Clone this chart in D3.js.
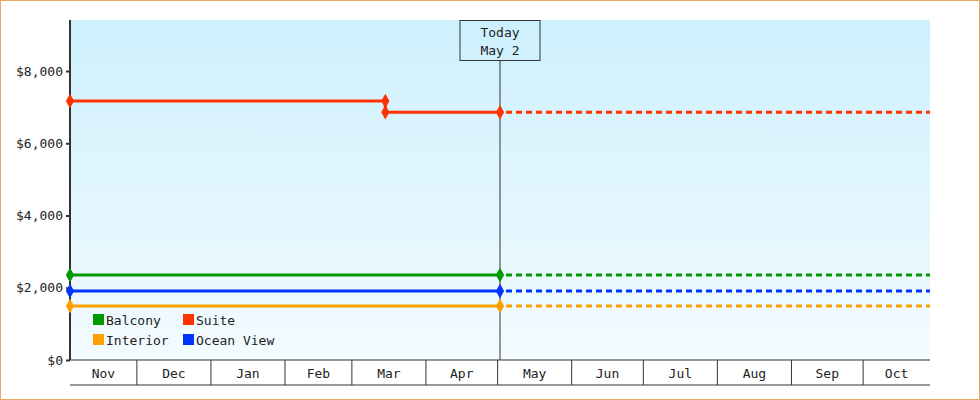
<!DOCTYPE html><html><head><script src="https://cdn.jsdelivr.net/npm/d3@7"></script>
<style>body{margin:0}svg{display:block}text{font-family:"DejaVu Sans Mono",monospace;font-size:13px;fill:#222}</style></head><body><svg width="980" height="400"></svg>
<script>
const series=["Balcony","Suite","Interior","Ocean View"];
const colors=["#009900","#ff3300","#ffa000","#0033ff"];
const dates=["2024-11-03","2025-03-15","2025-05-02"];
const balcony=[2355,2355,2355];
const suite=[7170,6860,6860];
const interior=[1495,1495,1495];
const ocean=[1910,1910,1910];
const yTicks=[0,2000,4000,6000,8000];
const vals=[balcony,suite,interior,ocean];
const svg=d3.select("svg");
const L=70,R=930,T=20,B=360;
svg.append("rect").attr("x",0.5).attr("y",0.5).attr("width",979).attr("height",399).attr("fill","#fff").attr("stroke","#e8a868");
const g=svg.append("defs").append("linearGradient").attr("id","bg").attr("x1",0).attr("y1",0).attr("x2",0).attr("y2",1);
g.append("stop").attr("offset",0).attr("stop-color","#cdf0fd");g.append("stop").attr("offset",1).attr("stop-color","#f3fbff");
svg.append("rect").attr("x",L).attr("y",T).attr("width",R-L).attr("height",B-T).attr("fill","url(#bg)");
const pd=d3.timeParse("%Y-%m-%d");
const x0=pd("2024-11-03"),x1=pd("2025-10-29");
const x=d3.scaleTime().domain([x0,x1]).range([L,R]);
const y=d3.scaleLinear().domain([0,9412]).range([B,T]);
const ya=svg.append("g").attr("transform",`translate(${L},0)`).call(d3.axisLeft(y).tickValues(yTicks).tickFormat(d=>"$"+d3.format(",")(d)).tickSize(4));
ya.select(".domain").remove();ya.selectAll("line").attr("stroke","#333").attr("stroke-width",2);
ya.selectAll("text").attr("style","font-family:'DejaVu Sans Mono';font-size:13px").attr("fill","#333");
svg.append("line").attr("x1",L).attr("x2",L).attr("y1",T).attr("y2",B).attr("stroke","#333").attr("stroke-width",2);
svg.append("line").attr("x1",L).attr("x2",R).attr("y1",B).attr("y2",B).attr("stroke","#333");
svg.append("line").attr("x1",L).attr("x2",R).attr("y1",385).attr("y2",385).attr("stroke","#333");
const months=d3.timeMonth.range(pd("2024-11-01"),pd("2025-11-01"));
months.slice(1).forEach(m=>svg.append("line").attr("x1",x(m)).attr("x2",x(m)).attr("y1",B).attr("y2",385).attr("stroke","#333"));
months.forEach(m=>{const a=Math.max(L,x(m)),b=Math.min(R,x(d3.timeMonth.offset(m,1)));
  svg.append("text").attr("x",(a+b)/2).attr("y",378).attr("text-anchor","middle").text(d3.timeFormat("%b")(m));});
const today=pd("2025-05-02"),end=x1;
svg.append("line").attr("x1",x(today)).attr("x2",x(today)).attr("y1",60).attr("y2",B).attr("stroke","#333");
svg.append("rect").attr("x",x(today)-40).attr("y",20.5).attr("width",80).attr("height",40).attr("fill","none").attr("stroke","#333");
svg.append("text").attr("x",x(today)).attr("y",37).attr("text-anchor","middle").text("Today");
svg.append("text").attr("x",x(today)).attr("y",55).attr("text-anchor","middle").text("May 2");
vals.forEach((v,i)=>{
  const pts=dates.map((d,j)=>[pd(d),v[j]]);
  const line=d3.line().x(d=>x(d[0])).y(d=>y(d[1])).curve(d3.curveStepAfter);
  svg.append("path").attr("d",line(pts)).attr("fill","none").attr("stroke",colors[i]).attr("stroke-width",3);
  svg.append("line").attr("x1",x(today)+4).attr("x2",x(end)).attr("y1",y(v[2])).attr("y2",y(v[2])).attr("stroke",colors[i]).attr("stroke-width",3).attr("stroke-dasharray","6,4").attr("stroke-dashoffset",-2);
  const marks=[];pts.forEach((p,j)=>{if(j>0&&v[j]!==v[j-1])marks.push([p[0],v[j-1]]);if(j===0||j===pts.length-1||v[j]!==v[j-1])marks.push(p);});
  marks.forEach(p=>svg.append("path").attr("d",d3.symbol(d3.symbolDiamond,60)()).attr("transform",`translate(${x(p[0])},${y(p[1])})`).attr("fill",colors[i]));
});
const leg=[[0,93,320],[1,183,320],[2,93,340],[3,183,340]];
leg.forEach(([i,lx,ly])=>{svg.append("rect").attr("x",lx).attr("y",ly-6).attr("width",11).attr("height",11).attr("fill",colors[i]);
svg.append("text").attr("x",lx+13).attr("y",ly+5).text(series[i]);});
</script></body></html>
